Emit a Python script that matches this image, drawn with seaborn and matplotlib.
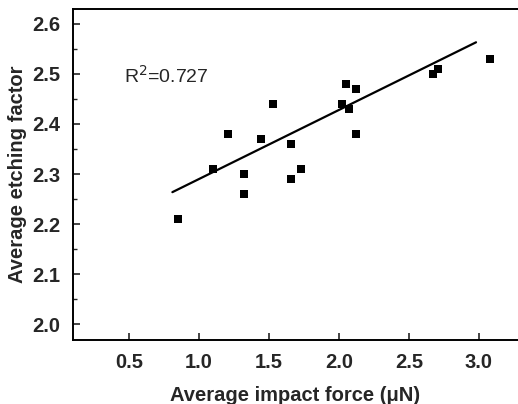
import numpy as np
import pandas as pd
import matplotlib
matplotlib.use('Agg')
import matplotlib.pyplot as plt
import seaborn as sns
from matplotlib.ticker import MultipleLocator

# values
impact_force = [0.85, 1.10, 1.21, 1.32, 1.32, 1.44, 1.53, 1.66, 1.66, 1.73,
                2.02, 2.05, 2.07, 2.12, 2.12, 2.67, 2.71, 3.08]
etching_factor = [2.21, 2.31, 2.38, 2.30, 2.26, 2.37, 2.44, 2.36, 2.29, 2.31,
                  2.44, 2.48, 2.43, 2.47, 2.38, 2.50, 2.51, 2.53]
# fitted line as printed in the original (slope / intercept)
fit_slope = 0.138
fit_intercept = 2.152
fit_range = [0.81, 2.98]
r_squared_label = 'R$^2$=0.727'

df = pd.DataFrame({'force': impact_force, 'etch': etching_factor})

sns.set_style('ticks')
plt.rcParams['font.family'] = ['Liberation Sans', 'DejaVu Sans']

fig = plt.figure(figsize=(5.18, 4.04), dpi=100)
ax = fig.add_axes([0.141, 0.158, 0.859, 0.820])

sns.scatterplot(data=df, x='force', y='etch', marker='s', s=34,
                color='black', edgecolor='black', linewidth=0, ax=ax)

xs = np.array(fit_range)
sns.lineplot(x=xs, y=fit_slope * xs + fit_intercept, color='black', linewidth=1.6, ax=ax)

ax.text(0.465, 2.496, r_squared_label, fontsize=14, va='center', ha='left')

ax.set_xlim(0.1, 3.28)
ax.set_ylim(1.968, 2.63)
ax.xaxis.set_major_locator(MultipleLocator(0.5))
ax.yaxis.set_major_locator(MultipleLocator(0.1))
ax.yaxis.set_minor_locator(MultipleLocator(0.05))
ax.tick_params(axis='both', which='major', direction='in', length=5, width=1.2,
               labelsize=14.5, pad=9)
ax.tick_params(axis='y', which='minor', direction='in', length=3, width=1)
for lbl in ax.get_xticklabels() + ax.get_yticklabels():
    lbl.set_fontweight('bold')

ax.spines['right'].set_visible(False)
for side in ['left', 'bottom', 'top']:
    ax.spines[side].set_linewidth(1.4)
    ax.spines[side].set_color('black')

ax.set_xlabel('Average impact force (\u03bcN)', fontsize=14.5, fontweight='bold', labelpad=10)
ax.set_ylabel('Average etching factor', fontsize=14.5, fontweight='bold', labelpad=4)

fig.savefig('out.png', dpi=100)
